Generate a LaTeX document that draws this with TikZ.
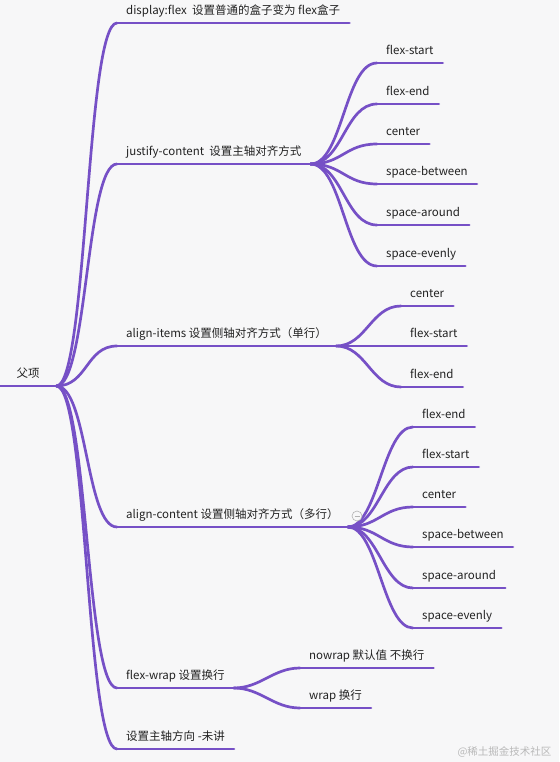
\documentclass[tikz,border=0pt]{standalone}
\usepackage{fontspec}
\setmainfont{Noto Sans CJK SC}
\usetikzlibrary{calc}
\definecolor{mmpurple}{HTML}{7650C6}
\definecolor{mmtext}{HTML}{222222}
\definecolor{mmback}{HTML}{F7F7F8}

\begin{document}
\begin{tikzpicture}[
  x=1pt,
  y=-1pt,
  font=\fontsize{11.5}{13}\selectfont,
  topic/.style={anchor=south west, inner xsep=9pt, inner ysep=5.5pt, text height=9pt, text depth=2.5pt, text=mmtext},
  branch/.style={draw=mmpurple, line width=2.7pt, line cap=round},
  fold/.style={circle, draw=gray!60, fill=mmback, line width=0.6pt, minimum size=10pt, inner sep=0pt,
    path picture={\draw[gray!60, line width=0.6pt] ([xshift=2.5pt]path picture bounding box.west) -- ([xshift=-2.5pt]path picture bounding box.east);}},
  stamp/.style={font=\fontsize{10.5}{12}\selectfont, text=gray!55, anchor=base east}
]
  \fill[mmback] (0,0) rectangle (559,762);
  \useasboundingbox (0,0) rectangle (559,762);

  % root and first level
  \node[topic, inner xsep=16.5pt] (root) at (0,386) {父项};
  \node[topic] (disp) at (117,23) {display:flex\ \ 设置普通的盒子变为 flex盒子};
  \node[topic] (jc) at (117,164) {justify-content\ \ 设置主轴对齐方式\hspace{4pt}};
  \node[topic] (ai) at (117,346) {align-items 设置侧轴对齐方式（单行）\hspace{7pt}};
  \node[topic] (ac) at (117,527) {align-content 设置侧轴对齐方式（多行）\hspace{10pt}};
  \node[topic] (fw) at (117,688) {flex-wrap 设置换行\hspace{12pt}};
  \node[topic] (dir) at (117,749) {设置主轴方向 -未讲};

  % justify-content
  \node[topic] (jc1) at (377,63) {flex-start};
  \node[topic] (jc2) at (377,104) {flex-end};
  \node[topic] (jc3) at (377,144) {center};
  \node[topic] (jc4) at (377,184) {space-between};
  \node[topic] (jc5) at (377,225) {space-around};
  \node[topic] (jc6) at (377,266) {space-evenly};

  % align-items
  \node[topic] (ai1) at (401,306) {center};
  \node[topic] (ai2) at (401,346) {flex-start};
  \node[topic] (ai3) at (401,387) {flex-end};

  % align-content
  \node[topic] (ac1) at (413,427) {flex-end};
  \node[topic] (ac2) at (413,467) {flex-start};
  \node[topic] (ac3) at (413,507) {center};
  \node[topic] (ac4) at (413,547) {space-between};
  \node[topic] (ac5) at (413,588) {space-around};
  \node[topic] (ac6) at (413,628) {space-evenly};

  % flex-wrap
  \node[topic] (fw1) at (300,668) {nowrap 默认值 不换行};
  \node[topic] (fw2) at (300,708) {wrap 换行};

  % underlines
  \foreach \n in {root,disp,jc,ai,ac,fw,dir,jc1,jc2,jc3,jc4,jc5,jc6,ai1,ai2,ai3,ac1,ac2,ac3,ac4,ac5,ac6,fw1,fw2}
    \draw[branch] (\n.south west) -- (\n.south east);

  % links
  \foreach \n in {disp,jc,ai,ac,fw,dir}
    \draw[branch] (root.south east) .. controls +(31,0) and +(-31,0) .. (\n.south west);
  \foreach \n in {jc1,jc2,jc3,jc4,jc5,jc6}
    \draw[branch] (jc.south east) .. controls +(32,0) and +(-32,0) .. (\n.south west);
  \foreach \n in {ai1,ai2,ai3}
    \draw[branch] (ai.south east) .. controls +(30,0) and +(-30,0) .. (\n.south west);
  \foreach \n in {ac1,ac2,ac3,ac4,ac5,ac6}
    \draw[branch] (ac.south east) .. controls +(30,0) and +(-30,0) .. (\n.south west);
  \foreach \n in {fw1,fw2}
    \draw[branch] (fw.south east) .. controls +(27,0) and +(-27,0) .. (\n.south west);

  \node[fold] (acfold) at (357,516) {};
  \node[stamp] (wm) at (555,755) {@稀土掘金技术社区};
\end{tikzpicture}
\end{document}
